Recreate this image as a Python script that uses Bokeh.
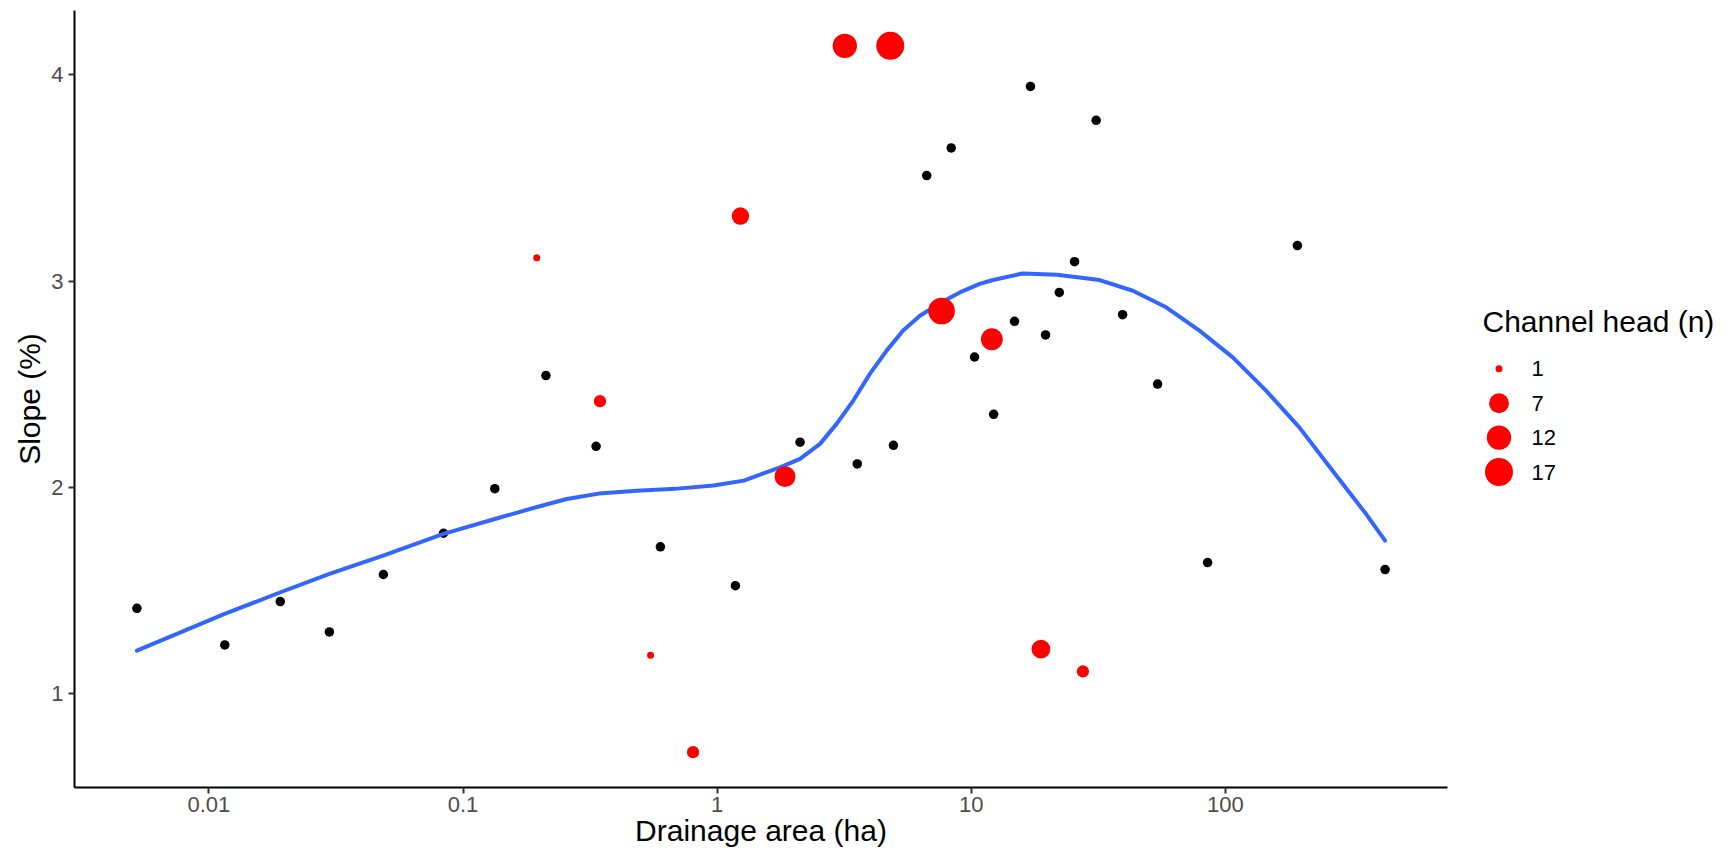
import numpy as np
from bokeh.plotting import figure
from bokeh.models import Range1d, FixedTicker, CustomJSTickFormatter
from bokeh.layouts import row
from bokeh.embed import file_html
from bokeh.resources import INLINE
from bokeh.core.properties import value

# ---------------- data ----------------
# sites without a channel head (black points)
black_area = [0.00521, 0.01155, 0.0191, 0.0298, 0.0486, 0.0838, 0.1334, 0.212,
              0.334, 0.598, 1.18, 2.12, 3.56, 4.94, 6.68, 8.34, 10.3, 12.25,
              14.8, 17.1, 19.6, 22.2, 25.5, 31.0, 39.4, 54.1, 85.1, 192, 425]
black_slope = [1.414, 1.237, 1.447, 1.300, 1.578, 1.778, 1.994, 2.542,
               2.199, 1.712, 1.524, 2.219, 2.114, 2.204, 3.511, 3.645, 2.632, 2.354,
               2.805, 3.943, 2.739, 2.945, 3.094, 3.779, 2.837, 2.501, 1.636, 3.172, 1.602]

# channel heads (red points, size = count)
head_area = [0.195, 0.346, 0.547, 0.804, 1.235, 1.85, 3.18, 4.80, 7.64, 12.05, 18.8, 27.5]
head_slope = [3.113, 2.418, 1.187, 0.717, 3.315, 2.052, 4.140, 4.140, 2.855, 2.718, 1.216, 1.108]
head_n = [1, 2, 1, 2, 5, 8, 12, 17, 15, 9, 6, 2]

# loess smooth (blue line)
smooth_area = [0.00521, 0.01153, 0.01914, 0.0298, 0.0485, 0.0838, 0.1334, 0.194,
               0.256, 0.342, 0.483, 0.682, 0.966, 1.274, 1.476, 1.770, 2.118,
               2.541, 2.951, 3.436, 3.990, 4.645, 5.395, 6.281, 7.638, 9.016,
               10.79, 12.08, 15.92, 21.78, 31.99, 43.25, 58.48, 79.07, 106.9, 144.5,
               195.4, 264.2, 357.3, 425]
smooth_slope = [1.209, 1.387, 1.492, 1.581, 1.670, 1.775, 1.847, 1.904,
                1.944, 1.970, 1.984, 1.993, 2.009, 2.033, 2.062, 2.097, 2.138,
                2.211, 2.308, 2.421, 2.550, 2.663, 2.760, 2.832, 2.897, 2.945,
                2.986, 3.004, 3.037, 3.031, 3.005, 2.953, 2.873, 2.760, 2.630, 2.469,
                2.291, 2.081, 1.872, 1.742]

x_ticks = [0.01, 0.1, 1, 10, 100]
x_tick_labels = ["0.01", "0.1", "1", "10", "100"]
y_ticks = [1, 2, 3, 4]
legend_breaks = [1, 7, 12, 17]
legend_title = "Channel head (n)"
x_title = "Drainage area (ha)"
y_title = "Slope (%)"

FONT = "Liberation Sans"

# ---------------- scales ----------------
n_min, n_max = min(head_n), max(head_n)


def size_px(n):
    n = np.asarray(n, dtype=float)
    s = 1 + 5 * np.sqrt((n - n_min) / (n_max - n_min))
    return 4.2 * s + 2.8


all_x = np.log10(np.array(black_area + head_area))
lo, hi = all_x.min(), all_x.max()
pad = 0.05 * (hi - lo)
x_range = Range1d(10 ** (lo - pad), 10 ** (hi + pad))

all_y = np.array(black_slope + head_slope)
ylo, yhi = all_y.min(), all_y.max()
ypad = 0.05 * (yhi - ylo)
y_range = Range1d(ylo - ypad, yhi + ypad)

# ---------------- main figure ----------------
H = 856
FL, FT, FB, FR = 74, 10, 69, 10
FW = 1373
p = figure(width=FL + FW + FR, height=H, x_axis_type="log", x_range=x_range, y_range=y_range,
           output_backend="svg", toolbar_location=None,
           min_border_left=FL, min_border_right=FR, min_border_top=FT, min_border_bottom=FB)
p.outline_line_color = None
p.xgrid.visible = False
p.ygrid.visible = False
p.background_fill_color = "white"
p.border_fill_color = "white"

p.xaxis.ticker = FixedTicker(ticks=x_ticks)
p.xaxis.formatter = CustomJSTickFormatter(
    args=dict(tick_vals=x_ticks, tick_text=x_tick_labels),
    code="""
    for (let i = 0; i < tick_vals.length; i++) {
        if (Math.abs(Math.log10(tick_vals[i]) - Math.log10(tick)) < 1e-6) return tick_text[i];
    }
    return '';
    """)
p.yaxis.ticker = FixedTicker(ticks=y_ticks)

for ax in (p.xaxis[0], p.yaxis[0]):
    ax.axis_line_width = 2
    ax.axis_line_color = "black"
    ax.major_tick_line_width = 2
    ax.major_tick_line_color = "#333333"
    ax.major_tick_out = 6
    ax.major_tick_in = 0
    ax.minor_tick_out = 0
    ax.minor_tick_in = 0
    ax.minor_tick_line_color = None
    ax.major_label_text_font = FONT
    ax.major_label_text_font_size = "22px"
    ax.major_label_text_color = "#4D4D4D"
    ax.axis_label_text_font = FONT
    ax.axis_label_text_font_size = "30px"
    ax.axis_label_text_font_style = "normal"
    ax.axis_label_text_color = "black"

p.xaxis.axis_label = x_title
p.yaxis.axis_label = y_title
p.xaxis.major_label_standoff = 3
p.xaxis.axis_label_standoff = -1
p.yaxis.major_label_standoff = 5
p.yaxis.axis_label_standoff = 2

# black points, then smooth, then red channel heads
p.scatter(black_area, black_slope, size=9.5, marker="circle",
          fill_color="black", line_color=None)
p.line(smooth_area, smooth_slope, line_color="#3366FF", line_width=4,
       line_join="round", line_cap="round")
p.scatter(head_area, head_slope, size=size_px(head_n), marker="circle",
          fill_color="#FF0000", line_color=None)

# ---------------- legend panel (page-pixel coordinates) ----------------
x0 = FL + FW + FR
LW = 1730 - x0
leg = figure(width=LW, height=H, x_range=Range1d(0, LW), y_range=Range1d(H - FB, FT),
             output_backend="svg", toolbar_location=None,
             min_border_left=0, min_border_right=0, min_border_top=FT, min_border_bottom=FB,
             x_axis_location=None, y_axis_location=None, title=None)
leg.outline_line_color = None
leg.xgrid.visible = False
leg.ygrid.visible = False
leg.background_fill_color = "white"
leg.border_fill_color = "white"

title_x, title_mid = 1482 - x0, 321
key_x, label_x = 1498.5 - x0, 1531 - x0
row0, row_gap = 368.3, 34.4
rows = [row0 + i * row_gap for i in range(len(legend_breaks))]

leg.text(x=[title_x], y=[title_mid], text=[legend_title], text_font=value(FONT),
         text_font_size="30px", text_baseline="middle", text_align="left",
         text_color="black")
leg.scatter([key_x] * len(legend_breaks), rows, size=size_px(legend_breaks),
            marker="circle", fill_color="#FF0000", line_color=None)
leg.text(x=[label_x] * len(legend_breaks), y=rows, text=[str(b) for b in legend_breaks],
         text_font=value(FONT), text_font_size="22px", text_baseline="middle",
         text_align="left", text_color="black")

layout = row(p, leg)
open("out.html", "w").write(file_html(layout, INLINE))
